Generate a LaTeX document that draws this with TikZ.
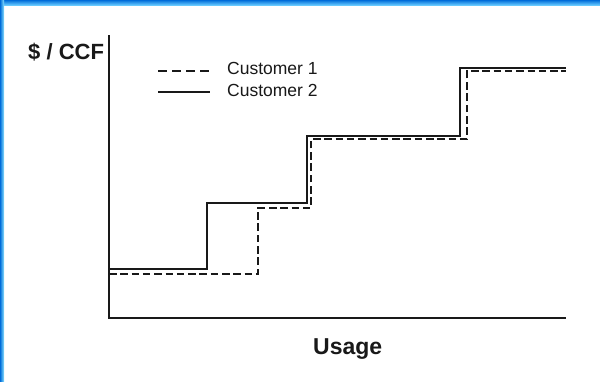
\documentclass[tikz,border=0pt]{standalone}
\usepackage{fontspec}
\setmainfont{Liberation Sans}
\begin{document}
\begin{tikzpicture}[x=1pt,y=-1pt,
  curve/.style={line width=2.6pt,black!90},
  cust1/.style={curve,dash pattern=on 7.5pt off 3.8pt},
  cust2/.style={curve},
  axisline/.style={line width=2.4pt,black!90},
  axislabel/.style={font=\fontsize{22}{24}\selectfont\bfseries,inner sep=0pt,text=black!90},
  legendtext/.style={font=\fontsize{17.5}{20}\selectfont,inner sep=0pt,anchor=base west,text=black!90}]
% page with a thin blue frame on top and left
\fill[white] (0,0) rectangle (600,381);
\useasboundingbox (0,0) rectangle (600,381);
\shade[top color=blue!50!cyan!85!black,bottom color=blue!35!cyan!60] (0,0) rectangle (600,5);
\shade[left color=blue!50!cyan!85!black,right color=blue!25!cyan!45] (0,0) rectangle (4,381);

% axes
\coordinate (ytop) at (109,35);
\coordinate (origin) at (109,318);
\coordinate (xend) at (566,318);
\draw[axisline] (ytop) -- (origin) -- (xend);
\node[axislabel,anchor=base west] (ylab) at (28,59) {\$ / CCF};
\node[axislabel,anchor=base west,font=\fontsize{23}{25}\selectfont\bfseries] (xlab) at (313,354) {Usage};

% rate curves
\draw[cust2] (109,269) -- (207,269) -- (207,203) -- (307,203) -- (307,136)
  -- (460,136) -- (460,68) -- (566,68);
\draw[cust1] (109,274) -- (258,274) -- (258,208) -- (311,208) -- (311,139)
  -- (467,139) -- (467,71) -- (566,71);

% legend
\coordinate (l1a) at (158,71);
\coordinate (l1b) at (210,71);
\coordinate (l2a) at (158,92);
\coordinate (l2b) at (210,92);
\draw[cust1,dash pattern=on 9pt off 5pt] (l1a) -- (l1b);
\draw[cust2] (l2a) -- (l2b);
\node[legendtext] (c1) at (227,74) {Customer 1};
\node[legendtext] (c2) at (227,96) {Customer 2};
\end{tikzpicture}
\end{document}
